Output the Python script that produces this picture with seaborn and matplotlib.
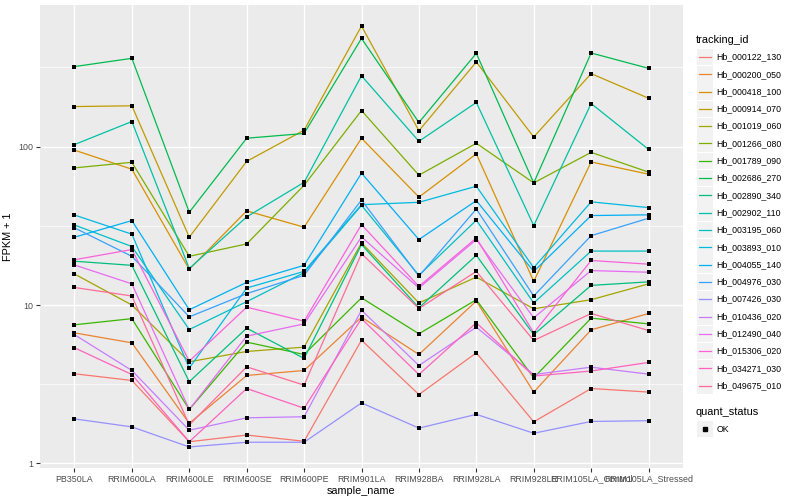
import numpy as np
import pandas as pd
import matplotlib
matplotlib.use("Agg")
import matplotlib.pyplot as plt
from matplotlib.lines import Line2D
from matplotlib.patches import Rectangle
import seaborn as sns

samples = ['PB350LA', 'RRIM600LA', 'RRIM600LE', 'RRIM600SE', 'RRIM600PE', 'RRIM901LA',
           'RRIM928BA', 'RRIM928LA', 'RRIM928LE', 'RRIM105LA_Control', 'RRIM105LA_Stressed']

# FPKM + 1 per tracking_id, in sample order
hb_000122_130 = [3.68, 3.34, 1.37, 1.51, 1.38, 6.0, 2.72, 4.99, 1.83, 2.97, 2.82]
hb_000200_050 = [6.67, 5.77, 1.79, 3.59, 3.86, 8.38, 4.87, 10.6, 2.82, 6.97, 8.84]
hb_000418_100 = [95, 72, 16.8, 39.3, 31, 113, 48, 90, 14.1, 80, 67]
hb_000914_070 = [179, 181, 26.8, 80.7, 127, 577, 126, 342, 115, 289, 202]
hb_001019_060 = [15.7, 10.0, 4.38, 5.09, 5.42, 24.7, 10.3, 15.0, 9.46, 10.8, 13.6]
hb_001266_080 = [73.4, 79.6, 20.3, 24.3, 57, 169, 66, 105, 59, 92, 69]
hb_001789_090 = [7.5, 8.2, 2.19, 5.83, 4.87, 11.1, 6.58, 10.8, 3.47, 8.26, 7.6]
hb_002686_270 = [320, 361, 38.5, 113, 121, 482, 142, 388, 59, 390, 312]
hb_002890_340 = [18.9, 17.8, 3.28, 7.14, 4.6, 24.1, 9.6, 20.6, 6.5, 13.3, 14.0]
hb_002902_110 = [103, 144, 17, 36, 59.5, 280, 108, 190, 31.7, 187, 96]
hb_003195_060 = [32, 23.4, 7.0, 10.5, 16.0, 42.6, 15.4, 34.3, 10.3, 21.9, 21.9]
hb_003893_010 = [37, 28, 4.0, 12.8, 16.3, 43, 44.5, 56.2, 17.2, 44.8, 41.2]
hb_004055_140 = [26.8, 34.1, 9.33, 13.9, 17.8, 68, 25.9, 45.6, 16.3, 36.7, 37.1]
hb_004976_030 = [30.7, 20.3, 8.42, 11.8, 15.4, 46, 15.2, 40.4, 11.4, 27.4, 35.3]
hb_007426_030 = [1.91, 1.70, 1.27, 1.36, 1.36, 2.41, 1.67, 2.04, 1.55, 1.84, 1.86]
hb_010436_020 = [6.5, 3.86, 1.62, 1.94, 1.97, 9.27, 4.15, 7.25, 3.64, 4.05, 3.66]
hb_012490_040 = [17.9, 13.6, 2.19, 6.36, 7.6, 26.9, 12.8, 25.9, 8.3, 16.5, 16.1]
hb_015306_020 = [19.3, 22.4, 4.42, 9.69, 7.9, 32.2, 13.1, 26.5, 6.67, 19.1, 18.1]
hb_034271_030 = [5.37, 3.64, 1.37, 2.97, 2.23, 8.2, 3.64, 7.72, 3.56, 3.83, 4.34]
hb_049675_010 = [12.9, 11.4, 1.75, 4.07, 3.12, 21.1, 9.5, 16.3, 5.97, 8.84, 6.9]

tracking_ids = ['Hb_000122_130', 'Hb_000200_050', 'Hb_000418_100', 'Hb_000914_070',
                'Hb_001019_060', 'Hb_001266_080', 'Hb_001789_090', 'Hb_002686_270',
                'Hb_002890_340', 'Hb_002902_110', 'Hb_003195_060', 'Hb_003893_010',
                'Hb_004055_140', 'Hb_004976_030', 'Hb_007426_030', 'Hb_010436_020',
                'Hb_012490_040', 'Hb_015306_020', 'Hb_034271_030', 'Hb_049675_010']
series = [hb_000122_130, hb_000200_050, hb_000418_100, hb_000914_070, hb_001019_060,
          hb_001266_080, hb_001789_090, hb_002686_270, hb_002890_340, hb_002902_110,
          hb_003195_060, hb_003893_010, hb_004055_140, hb_004976_030, hb_007426_030,
          hb_010436_020, hb_012490_040, hb_015306_020, hb_034271_030, hb_049675_010]


def hcl_hex(h, c=100, l=65):
    # polar Luv -> sRGB, same as ggplot's hue palette
    Xn, Yn, Zn = 95.047, 100.0, 108.883
    un = 4 * Xn / (Xn + 15 * Yn + 3 * Zn)
    vn = 9 * Yn / (Xn + 15 * Yn + 3 * Zn)
    u = c * np.cos(np.deg2rad(h))
    v = c * np.sin(np.deg2rad(h))
    Y = Yn * ((l + 16) / 116) ** 3
    up = u / (13 * l) + un
    vp = v / (13 * l) + vn
    X = Y * 9 * up / (4 * vp)
    Z = Y * (12 - 3 * up - 20 * vp) / (4 * vp)
    M = np.array([[3.2404542, -1.5371385, -0.4985314],
                  [-0.9692660, 1.8760108, 0.0415560],
                  [0.0556434, -0.2040259, 1.0572252]])
    rgb = M @ (np.array([X, Y, Z]) / 100)
    rgb = np.where(rgb > 0.0031308, 1.055 * np.clip(rgb, 0, None) ** (1 / 2.4) - 0.055, 12.92 * rgb)
    rgb = np.clip(rgb, 0, 1)
    return matplotlib.colors.to_hex(rgb)


colors = [hcl_hex(15 + 360 * i / len(tracking_ids)) for i in range(len(tracking_ids))]
palette = dict(zip(tracking_ids, colors))

rows = []
for tid, vals in zip(tracking_ids, series):
    for s, v in zip(samples, vals):
        rows.append({'sample_name': s, 'tracking_id': tid, 'fpkm1': v, 'quant_status': 'OK'})
df = pd.DataFrame(rows)

plt.rcParams['font.family'] = ['Liberation Sans', 'DejaVu Sans']
fig = plt.figure(figsize=(8, 5), dpi=100)
ax = fig.add_axes([40 / 800, 1 - 468 / 500, 643 / 800, 463 / 500])
ax.set_facecolor('#EBEBEB')

sns.lineplot(data=df, x='sample_name', y='fpkm1', hue='tracking_id', palette=palette,
             sort=False, linewidth=0.9, legend=False, ax=ax, zorder=2)
sns.scatterplot(data=df, x='sample_name', y='fpkm1', color='black', marker='s', s=7,
                linewidth=0, legend=False, ax=ax, zorder=3)

ax.set_yscale('log')
ax.margins(y=0.05)
ax.set_xlim(-0.6, len(samples) - 0.4)
ax.set_yticks([1, 10, 100])
ax.set_yticklabels(['1', '10', '100'])
ax.set_yticks([10 ** 0.5, 10 ** 1.5, 10 ** 2.5], minor=True)
ax.yaxis.set_minor_formatter(matplotlib.ticker.NullFormatter())
ax.tick_params(axis='both', which='major', length=2.7, width=0.8, color='#333333',
               labelsize=6.4, labelcolor='#4D4D4D', pad=2)
ax.tick_params(axis='y', which='minor', length=0)
ax.grid(which='major', color='white', linewidth=1.0)
ax.grid(which='minor', axis='y', color='white', linewidth=0.5)
ax.set_axisbelow(True)
for sp in ax.spines.values():
    sp.set_visible(False)
ax.set_xlabel('sample_name', fontsize=7.8, labelpad=2)
ax.set_ylabel('FPKM + 1', fontsize=7.8, labelpad=4)

# legend drawn ggplot-style on the right
W, H = 800, 500
fig.text(696 / W, 1 - 40 / H, 'tracking_id', fontsize=7.9, va='center', ha='left')
for i, tid in enumerate(tracking_ids):
    yc = 57 + i * 17.3
    fig.add_artist(Rectangle((697 / W, 1 - (yc + 8.3) / H), 16 / W, 16.6 / H,
                             transform=fig.transFigure, facecolor='#F2F2F2', edgecolor='none'))
    fig.add_artist(Line2D([699 / W, 711 / W], [1 - yc / H, 1 - yc / H],
                          transform=fig.transFigure, color=palette[tid], linewidth=0.9))
    fig.text(716.5 / W, 1 - yc / H, tid, fontsize=6.3, va='center', ha='left')

fig.text(696 / W, 1 - 412 / H, 'quant_status', fontsize=7.9, va='center', ha='left')
fig.add_artist(Rectangle((697 / W, 1 - (429 + 8.3) / H), 16 / W, 16.6 / H,
                         transform=fig.transFigure, facecolor='#F2F2F2', edgecolor='none'))
fig.add_artist(Line2D([705 / W], [1 - 429 / H], transform=fig.transFigure, color='black',
                      marker='s', markersize=2.6, linestyle='none'))
fig.text(716.5 / W, 1 - 429 / H, 'OK', fontsize=6.3, va='center', ha='left')

fig.savefig('out.png', dpi=100)
